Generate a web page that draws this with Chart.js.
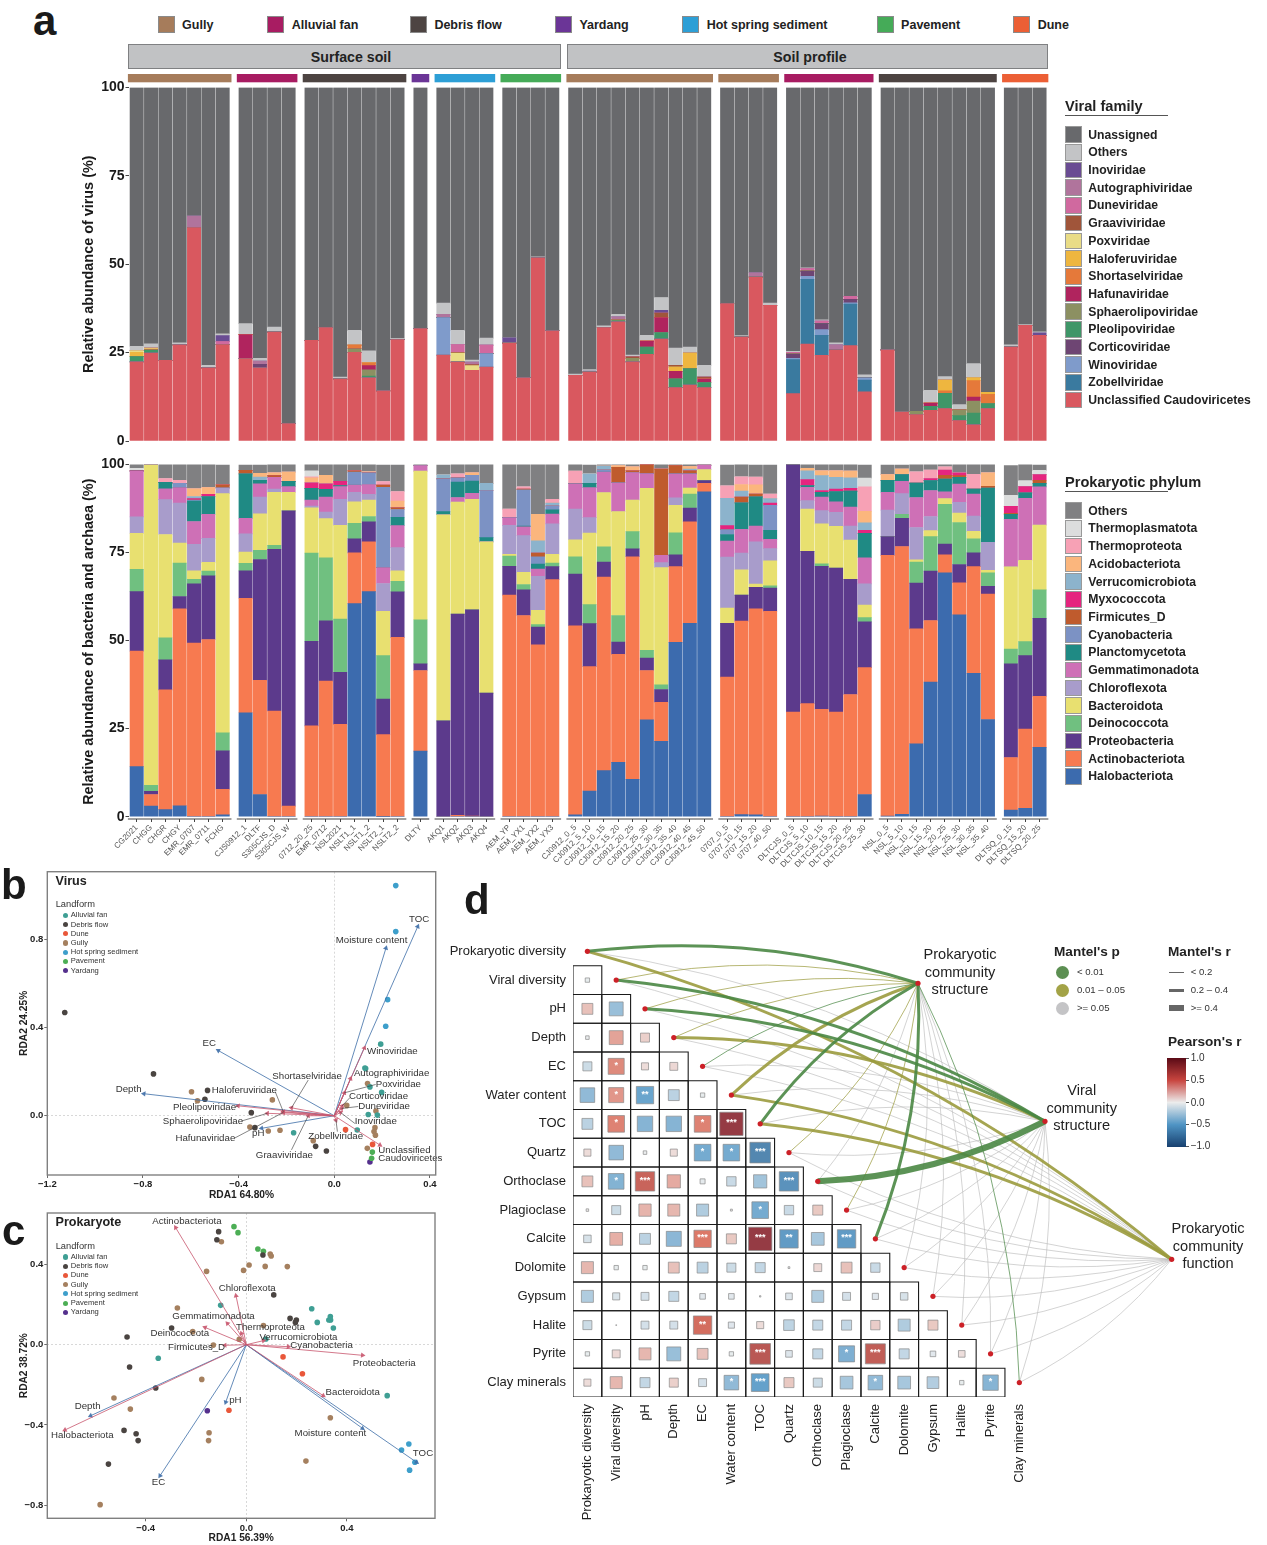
<!DOCTYPE html>
<html>
<head>
<meta charset="utf-8">
<title>Viral and prokaryotic communities</title>
<script src="https://cdn.jsdelivr.net/npm/chart.js@4/dist/chart.umd.min.js"></script>
<style>
  html, body { margin: 0; padding: 0; background: #fff; }
  body { position: relative; width: 1267px; height: 1545px; overflow: hidden; font-family: "Liberation Sans", Arial, sans-serif; color: #222; }
  canvas { position: absolute; }
  .t { position: absolute; white-space: nowrap; transform: translateY(-50%); line-height: 1; }
  .c { transform: translate(-50%, -50%); text-align: center; }
  .box { position: absolute; box-sizing: border-box; }
</style>
</head>
<body>
<canvas id="virus" style="left:78px;top:70px" width="1000" height="381"></canvas>
<canvas id="prok" style="left:78px;top:455px" width="1000" height="425"></canvas>
<canvas id="rdaB" style="left:0;top:865px" width="445" height="340"></canvas>
<canvas id="rdaC" style="left:0;top:1205px" width="445" height="340"></canvas>
<canvas id="mantel" style="left:440px;top:916px" width="827" height="629"></canvas>
<script>
// ---------- panel a: samples ----------
const sampleNames = ["CG2021","CHGG","CHGR","CHGY","EMR_0707","EMR_0711","FCHG",
  "CJS0912_1","DLTF","S305CJS_D","S305CJS_W",
  "0712_20_25","EMR_0712","NSL2021","NSLT1_1","NSLT1_2","NSLT2_1","NSLT2_2",
  "DLTY",
  "AKQ1","AKQ2","AKQ3","AKQ4",
  "AEM_YP","AEM_YX1","AEM_YX2","AEM_YX3",
  "CJ0912_0_5","CJ0912_5_10","CJ0912_10_15","CJ0912_15_20","CJ0912_20_25","CJ0912_25_30","CJ0912_30_35","CJ0912_35_40","CJ0912_40_45","CJ0912_45_50",
  "0707_0_5","0707_10_15","0707_15_20","0707_40_50",
  "DLTCJS_0_5","DLTCJS_5_10","DLTCJS_10_15","DLTCJS_15_20","DLTCJS_20_25","DLTCJS_25_30",
  "NSL_0_5","NSL_5_10","NSL_10_15","NSL_15_20","NSL_20_25","NSL_25_30","NSL_30_35","NSL_35_40",
  "DLTSQ_0_15","DLTSQ_15_20","DLTSQ_20_25"];
const groupSizes = [7,4,7,1,4,4,10,4,6,8,3];
const landformColors = { Gully:"#a67c5b", "Alluvial fan":"#a81c62", "Debris flow":"#4d4442", Yardang:"#6b3597", "Hot spring sediment":"#2d9fd6", Pavement:"#45ab58", Dune:"#ec5f35" };
const groupLandforms = ["Gully","Alluvial fan","Debris flow","Yardang","Hot spring sediment","Pavement","Gully","Gully","Alluvial fan","Debris flow","Dune"];

// viral families, bottom of stack first
const virUnclassified = [22.4,24.9,22.8,27.2,60.4,20.7,27.3, 23.3,20.7,30.8,4.9, 28.5,32.1,17.5,25.1,17.9,14.2,28.7, 31.8, 24.3,22.3,20,20.9, 27.7,17.9,51.8,31.2, 18.6,19.5,32.1,33.7,22.4,24.5,28.8,15.1,15.8,15.1, 38.9,29.4,46.4,38.4, 13.4,27.4,24.2,25.8,27,13.9, 25.8,8.2,7.5,8.7,9.2,5.8,4.6,9.2, 26.6,32.7,29.9];
const virZobell = [0,0,0,0,0,0,0, 0,0,0,0, 0,0,0,0,0,0,0, 0, 0,0,0,0, 0,0,0,0, 0,0,0,0,0,0,0,0,0,0, 0,0,0,0, 9.6,18.3,5.7,0,11.7,3.3, 0,0,0,0,0,0,0,0, 0,0,0];
const virWino = [0,0,0,0,0,0,0, 0,0,0,0, 0,0,0,0,0,0,0, 0, 10.6,0,0,3.8, 0,0,0,0, 0,0,0,0,0,0,0,0,0,0, 0,0,0,0, .4,.9,1.6,0,.4,.7, 0,0,0,0,0,0,0,0, 0,0,0];
const virCortico = [0,0,0,0,0,0,0, 0,1,0,0, 0,0,0,0,0,0,0, 0, 0,0,0,0, 0,0,0,0, 0,0,0,0,0,0,0,0,0,0, 0,0,0,0, 1.2,1.5,1.7,0,1,0, 0,0,0,0,0,0,0,0, 0,0,0];
const virPleo = [1.5,.8,0,0,0,0,0, 0,0,0,0, 0,0,0,0,.5,0,0, 0, 0,0,0,0, 0,0,0,0, 0,0,0,.3,0,2.1,1.9,2.5,4.7,1.4, 0,0,0,0, 0,0,0,0,0,0, 0,0,0,1.1,4.3,1.4,3.3,1.4, 0,0,0];
const virSphaero = [0,0,0,0,0,0,0, 0,0,0,0, 0,0,0,1,1.7,0,0, 0, 0,0,0,0, 0,0,0,0, 0,0,0,.3,1,0,0,0,0,0, 0,0,0,0, 0,0,0,0,0,0, 0,0,.9,0,0,1.6,3.4,0, 0,0,0];
const virHafuna = [0,0,0,0,0,0,0, 6.8,0,0,0, 0,0,0,0,1.2,0,0, 0, 0,0,0,0, 0,0,0,0, 0,0,0,0,0,1.7,4.2,2.1,0,1.1, 0,0,0,0, 0,0,0,0,0,0, 0,0,0,.9,0,0,1.1,0, 0,0,0];
const virShorta = [0,.3,0,0,0,0,0, 0,0,0,0, 0,0,0,1,.8,0,0, 0, 0,0,0,0, 0,0,0,0, 0,0,0,0,0,0,0,0,0,0, 0,0,0,0, 0,0,0,0,0,0, 0,0,0,0,.7,0,4.7,2.6, 0,0,0];
const virHalofer = [1.2,0,0,0,0,0,0, 0,0,0,0, 0,0,0,0,0,0,0, 0, 0,0,0,0, 0,0,0,0, 0,0,0,0,0,0,0,1.2,4.4,0, 0,0,0,0, 0,0,0,0,0,0, 0,0,0,0,3,0,.8,.6, 0,0,0];
const virPox = [.5,.3,0,0,0,0,0, 0,0,0,0, 0,0,0,0,0,0,0, 0, 0,2.6,1.3,0, 0,0,0,0, 0,0,0,0,0,0,0,0,0,0, 0,0,0,0, 0,0,0,0,0,0, 0,0,0,0,0,0,0,0, 0,0,0];
const virGraa = [0,0,0,0,0,0,0, 0,0,0,0, 0,0,0,0,0,0,0, 0, 0,.2,.3,0, 0,0,0,0, 0,0,0,0,.4,0,1.3,.5,0,.5, 0,0,0,0, 0,0,0,0,0,0, 0,0,0,0,0,0,0,0, 0,0,0];
const virDune = [0,0,0,0,0,0,.8, 0,0,0,0, 0,0,0,0,0,0,0, 0, 0,2.2,0,2.4, 0,0,0,0, 0,0,0,0,0,0,0,0,0,0, 0,0,0,0, .5,.7,.7,0,.8,0, 0,0,0,0,0,0,0,0, 0,0,0];
const virAuto = [0,0,0,0,3.2,0,0, 0,.9,0,0, 0,0,0,0,0,0,0, 0, .9,0,.7,0, 0,0,0,0, 0,0,0,.8,0,0,0,0,0,0, 0,0,1.2,0, 0,0,0,1.4,0,0, 0,0,0,0,0,0,0,0, 0,0,0];
const virIno = [0,0,0,0,0,0,1.7, 0,0,0,0, 0,0,0,0,0,0,0, 0, 0,0,0,0, 1.5,0,0,0, 0,.3,0,0,0,0,.8,0,0,0, 0,0,0,0, 0,0,0,0,0,0, 0,0,0,0,0,0,0,0, 0,0,.7];
const virOthers = [1.2,1.2,0,.6,0,.7,.5, 3.1,.8,1.4,0, 0,0,.6,4.2,3.4,0,.3, 0, 3.2,4,.6,2, 0,0,.3,0, .3,.4,.5,.7,.5,1.6,3.6,4.9,1.7,3.3, 0,.4,0,.6, .3,.2,.4,.6,0,.8, 0,0,0,3.6,1,1.5,4,0, .6,.2,.3];
const virUnassigned = [73.2,72.5,77.2,72.2,36.4,78.6,69.7, 66.8,76.6,67.8,95.1, 71.5,67.9,81.9,68.7,74.5,85.8,71, 68.2, 61,68.7,77.1,70.9, 70.8,82.1,47.9,68.8, 81.1,79.8,67.4,64.2,75.7,70.1,59.4,73.7,73.4,78.6, 61.1,70.2,52.4,61, 74.6,51,65.7,72.2,59.1,81.3, 74.2,91.8,91.6,85.7,81.8,89.7,78.1,86.2, 72.8,67.1,69.1];

// prokaryotic phyla, bottom of stack first
const proHalo = [14.2,3,2,3.1,0,0,.5, 29.5,6.3,0,0, 0,0,0,60.5,63.9,.1,0, 18.6, 0,0,0,0, 0,0,0,0, .5,7.3,13.1,15.4,10.6,27.5,21.4,49.5,54.9,92.2, 0,.6,.5,0, 0,0,.2,0,0,6.3, .2,.7,20.7,38.2,69.2,57.3,40.7,27.6, 1.9,2.4,19.7];
const proActino = [32.8,3.3,34,55.9,49.3,50.3,7.3, 32.5,32.4,30,3, 25.8,38.5,26.2,14.4,14.1,23.2,50.9, 22.9, 0,.4,.2,0, 62.9,57.1,48.8,67.3, 53.7,35.3,54.9,30.7,63.2,14,11.1,21.5,28.8,2.4, 39.6,54.9,58.5,58.3, 29.7,32.1,30.3,29.7,34.7,36, 74,76,32.6,17.5,5.1,9.1,30.3,35.6, 14.9,22.5,14.5];
const proProteo = [16.9,.9,8.5,3.5,16.8,18.1,10.9, 7.8,34.3,45.9,83.8, 24,17.1,14.8,4,5.7,10.1,12.9, 1.9, 27.2,57.1,58.5,35.1, 8.2,7.3,5,3.7, 14.7,12.2,4.3,3.5,2.2,3.5,3.6,3.3,3.9,.8, 15.3,7.4,6.1,6.6, 70.3,43.2,40.6,40.9,32.7,13, 5.3,8,13,14,3.1,5.2,3.9,2.2, 26.6,20.8,22.1];
const proDeino = [6.3,1.7,6.3,9.5,1.3,1.3,5.1, 2.1,2.6,1.1,0, 25,17.9,15.1,4.4,1.5,12.3,3, 12.5, 0,0,0,0, 2.9,1.5,.7,1, 4.9,5.4,4.3,7.5,4.9,2.2,1.3,6.3,4,0, 0,0,0,.6, 0,0,.7,0,0,1.2, 0,1.1,6,9.8,11.3,11.9,4,3.8, 4.2,4,8.1];
const proBacte = [10.2,91,29.3,5.7,2.4,2.5,67.9, 3.2,10.4,15.1,5.3, 12.9,11.1,26.6,6.1,4.7,12.6,3, 42.2, 58.5,31.8,31.4,42.9, .5,3.5,4.1,2.5, 4.8,20.3,15.4,29.5,9,46,33.3,7.8,1.7,3.1, 4.3,7.2,.9,7.1, 0,12,11.3,11.8,11.1,3.6, 0,0,.6,1.7,1.6,2.7,2.1,.7, 23.3,23.1,18.4];
const proChloro = [4.7,0,9.9,11.3,7.5,6.8,1.6, 5.2,4.7,.9,0, .5,1.9,7.4,2.7,1.6,7.9,6.6, 0, 0,0,0,0, 8.2,10.4,9.6,8.6, 8.7,4.4,0,0,0,0,1.4,2.1,0,0, 14.5,4.7,12,3.5, 0,2.4,3.8,4,4,6, 7.5,5.9,9.2,4,0,3,4.3,8, 0,0,0];
const proGemma = [13,0,3.1,4.4,6.5,6.8,0, 4.4,3.8,3.3,1.6, 1.7,4.2,3.6,2,2.8,4.5,6.2, 1.6, 0,1.3,1.7,0, 2.2,2.5,2.1,2.8, 7.2,8.5,5.8,8.2,7.8,4.2,2.1,6.8,4,1.3, 4.5,6.8,4.5,2.6, 0,3.8,3.8,3,5.4,7.4, 5.1,3.5,8.5,7.4,1.9,5.2,6.3,0, 13.5,17.6,10.8];
const proPlancto = [0,0,1.8,0,5.8,5.1,0, 12.6,1,0,1.5, 3.3,2.2,.3,0,0,0,2.4, 0, .9,4.4,3.5,1.2, 0,.2,1.4,1.2, 0,1.2,0,0,0,0,0,0,0,0, 1.9,7.5,8.3,2.6, 0,.5,1.4,2.9,4.5,6.9, 3.4,1.9,4.1,2.8,3.6,1.9,1.4,15.4, 1.4,1.5,1];
const proCyano = [0,0,0,1.2,.3,0,0, 0,0,0,0, 0,0,0,3.7,3.3,22.8,2.2, 0, 9.3,1.2,1.6,13.4, 0,10.3,2.1,1.1, 0,0,.6,0,0,0,0,0,0,0, 1.4,0,0,7.1, 0,0,0,0,0,0, 0,0,0,0,0,0,0,0, 0,0,0];
const proFirm = [0,0,0,0,0,0,.9, 1,0,.5,0, 0,0,0,.4,0,.6,.5, 0, 0,0,0,0, 0,.2,1,0, 0,0,0,4.4,.5,2.6,24.5,2.4,.9,0, 0,1.6,.8,0, 0,0,0,0,0,0, 0,0,0,0,1.1,.5,0,.5, .3,0,.9];
const proMyxo = [.2,0,0,0,.4,.6,0, 0,0,0,0, 1.6,1.6,1.2,0,0,0,0, 0, 0,0,0,0, 0,0,0,0, 0,0,0,0,0,0,0,0,0,0, 1.1,0,0,.6, 0,1.7,.5,.7,.8,.9, 0,0,0,.6,1.5,.8,0,0, 2,1.8,1.6];
const proVerru = [0,0,0,0,.6,0,0, 0,.9,0,0, 0,0,0,0,0,0,0, 0, 1.2,0,0,2, 0,0,3.5,.8, 0,2.8,1.1,0,0,0,0,0,.5,0, 7.8,1.7,0,1.3, 0,2.5,4.2,3.3,3,2.1, 0,0,0,0,0,0,0,0, 0,0,0];
const proAcido = [0,0,0,0,2.2,1.9,0, 0,1.1,.8,2.6, 1.4,2.4,0,0,.3,0,1.9, 0, 0,0,.7,0, 0,0,7.5,0, 0,0,0,.5,1.1,0,0,0,.7,0, 0,1.9,2.6,0, 0,.7,1.4,1.9,1.9,3.3, 1.6,1.6,0,0,0,0,0,3.8, 0,0,0];
const proThermoprot = [0,0,1.1,.9,0,0,0, 0,0,0,0, .3,0,0,0,0,1,2.7, 0, 0,1.1,0,0, 2.4,.6,0,1.1, 3.6,0,0,0,0,0,0,0,0,0, 3.5,2.2,2.2,1.3, 0,0,0,0,0,6.9, 0,0,3.2,2.4,.9,0,4.2,0, 0,0,0];
const proThermopl = [.6,0,0,0,0,0,0, 0,0,0,0, 1.7,0,0,0,0,0,0, 0, 0,0,0,0, 0,0,0,0, 0,0,0,0,0,0,0,0,0,0, 0,0,0,0, 0,0,0,0,0,2.5, 0,0,0,0,0,0,0,0, 3.1,1.7,1.2];
const proOthers = [1.1,.1,4,4.5,6.9,6.6,5.7, 1.6,2.4,2.4,2.2, 1.8,3.1,4.8,1.8,2.1,4.8,7.6, .3, 2.8,2.7,2.4,5.4, 12.7,6.4,14.2,9.9, 1.9,2.5,.5,.3,.8,0,1.3,.3,.7,.2, 6,3.5,3.5,8.3, 0,1.2,1.9,1.9,1.9,3.8, 2.8,1.2,2.2,1.7,.7,2.5,2.8,2.5, 8.5,4.7,1.6];

const virNames = ["Unclassified Caudoviricetes","Zobellviridae","Winoviridae","Corticoviridae","Pleolipoviridae","Sphaerolipoviridae","Hafunaviridae","Shortaselviridae","Haloferuviridae","Poxviridae","Graaviviridae","Duneviridae","Autographiviridae","Inoviridae","Others","Unassigned"];
const virSeries = [virUnclassified,virZobell,virWino,virCortico,virPleo,virSphaero,virHafuna,virShorta,virHalofer,virPox,virGraa,virDune,virAuto,virIno,virOthers,virUnassigned];
const virColors = ["#d9585f","#3a7a9f","#7f9bcb","#6e4573","#3f9668","#8c9062","#b0245e","#e5793a","#eeb63f","#e9dc86","#a0553a","#d0699f","#b0749c","#6a4c93","#c3c4c6","#68696c"];
const proNames = ["Halobacteriota","Actinobacteriota","Proteobacteria","Deinococcota","Bacteroidota","Chloroflexota","Gemmatimonadota","Planctomycetota","Cyanobacteria","Firmicutes_D","Myxococcota","Verrucomicrobiota","Acidobacteriota","Thermoproteota","Thermoplasmatota","Others"];
const proSeries = [proHalo,proActino,proProteo,proDeino,proBacte,proChloro,proGemma,proPlancto,proCyano,proFirm,proMyxo,proVerru,proAcido,proThermoprot,proThermopl,proOthers];
const proColors = ["#3c6bae","#f77a50","#5c3a8c","#70c080","#e8e070","#a89ccb","#ce70b6","#1f8a84","#7c92c4","#bf5b2d","#e5257f","#8cb3cc","#fbb67d","#f7a1b5","#dcdddd","#808082"];

// ---------- panels b and c: RDA scores ----------
const landformNames = ["Alluvial fan","Debris flow","Dune","Gully","Hot spring sediment","Pavement","Yardang"];
const landformDots = ["#3f9f94","#4a4441","#e9573a","#a5805f","#3e9fcb","#4cae55","#55308d"];
const bXTicks = [-1.2,-.8,-.4,0,.4];
const bYTicks = [0,.4,.8];
const cXTicks = [-.4,0,.4];
const cYTicks = [-.8,-.4,0,.4];
const bScores = [
  [[.128,.217],[.131,.214],[.194,.325],[.149,.131],[.198,.106],[.142,.006],[.18,.003],[.096,-.065],[-.17,-.077]],
  [[-1.127,.469],[-.756,.19],[-.53,.115],[-.541,.075],[-.347,.014],[-.332,-.054],[-.078,-.139],[-.033,-.16]],
  [[.047,-.063],[.16,-.13]],
  [[-.597,.109],[-.572,.068],[-.259,.072],[-.353,-.051],[-.276,-.069],[-.227,-.066],[-.088,-.113],[.139,.146],[.052,.047],[.174,.021],[.17,-.054],[.166,-.072],[.172,-.088],[.138,-.148]],
  [[.257,1.045],[.257,.836],[.223,.527],[.215,.406]],
  [[.159,-.165],[.156,-.193]],
  [[.149,-.21]]
];
const bEnvArrows = [[.349,.859],[.216,.761],[-.485,.296],[-.796,.1],[-.304,-.057]];
const bTaxonArrows = [[.126,.308],[.068,.169],[.042,.104],[.033,.045],[.031,.033],[.026,.015],[.191,-.133],[.007,-.02],[-.109,0],[-.179,.036],[-.213,.018],[-.402,.045],[-.28,.011],[-.213,.015]];
const bLabels = [["TOC",.312,.894],["Moisture content",.006,.795],["EC",-.551,.331],["Depth",-.914,.118],["Winoviridae",.137,.293],["Autographiviridae",.082,.193],["Poxviridae",.173,.143],["Shortaselviridae",-.259,.181],["Haloferuviridae",-.512,.116],["Corticoviridae",.061,.088],["Duneviridae",.1,.041],["Pleolipoviridae",-.674,.038],["Sphaerolipoviridae",-.717,-.024],["Inoviridae",.086,-.024],["Hafunaviridae",-.664,-.101],["pH",-.344,-.082],["Zobellviridae",-.109,-.095],["Graaviviridae",-.328,-.18],["Unclassified",.184,-.158],["Caudoviricetes",.184,-.193]];
const bLeaders = [[-.109,.162,-.179,.036],[-.247,.109,-.213,.018],[-.416,.038,-.402,.045],[-.388,-.024,-.28,.011],[-.416,-.101,-.213,.015],[-.179,-.155,-.109,0],[.013,-.072,.007,-.02],[.173,.142,.042,.104],[.066,.083,.033,.045],[.1,.042,.031,.033],[.086,-.035,.026,.015]];

const cScores = [
  [[-.102,.196],[.26,.179],[.334,.14],[.282,.111],[.328,.123],[.335,.123],[.346,.083],[.078,.028],[-.35,-.068],[.56,-.254]],
  [[-.11,.563],[-.117,.523],[.066,.447],[.109,.248],[.174,.131],[.199,.123],[.195,.111],[-.297,.083],[-.474,.038],[-.464,-.111],[-.36,-.216],[-.486,-.427],[-.438,-.444],[-.43,-.478],[-.548,-.595]],
  [[.146,-.061],[.223,-.145],[-.069,-.327]],
  [[-.099,.513],[-.158,.365],[-.011,.37],[.011,.397],[.075,.39],[.095,.452],[.099,.442],[.163,.389],[-.274,.183],[-.213,.065],[.068,.095],[-.131,-.002],[-.028,.027],[-.177,-.173],[-.526,-.266],[-.461,-.321],[-.148,-.439],[-.15,-.478],[.334,-.364],[.237,-.58],[-.581,-.797]],
  [[.617,-.525],[.646,-.495],[.67,-.586],[.649,-.625]],
  [[-.049,.588],[-.033,.558],[.046,.477],[.068,.465]],
  [[-.155,-.329]]
];
const cEnvArrows = [[.677,-.586],[.462,-.417],[-.082,-.287],[-.343,-.653],[-.619,-.354]];
const cTaxonArrows = [[-.281,.583],[-.041,.244],[-.075,.106],[-.019,.056],[-.164,.086],[-.085,-.003],[.068,.02],[.167,-.01],[.462,-.053],[.306,-.254],[-.721,-.425]];
const cLabels = [["Actinobacteriota",-.374,.613],["Chloroflexota",-.11,.281],["Gemmatimonadota",-.294,.14],["Thermoproteota",-.041,.085],["Deinococcota",-.381,.056],["Verrucomicrobiota",.052,.037],["Firmicutes_D",-.311,-.015],["Cyanobacteria",.175,-.002],["Proteobacteria",.423,-.095],["Bacteroidota",.315,-.239],["pH",-.068,-.276],["Depth",-.682,-.307],["Moisture content",.192,-.442],["TOC",.662,-.542],["Halobacteriota",-.776,-.453],["EC",-.376,-.684]];

// ---------- panel d: Pearson's r and Mantel links ----------
const envNames = ["Prokaryotic diversity","Viral diversity","pH","Depth","EC","Water content","TOC","Quartz","Orthoclase","Plagioclase","Calcite","Dolomite","Gypsum","Halite","Pyrite","Clay minerals"];
const pearsonR = [
  [-.03],
  [.19,-.31],
  [-.02,.31,.13],
  [-.13,.41,.08,.1],
  [-.34,.36,-.48,-.19,-.03],
  [-.19,.44,-.38,-.38,.44,.87],
  [.08,-.34,-.02,.08,-.44,-.44,-.68],
  [.19,-.39,.6,.28,-.04,-.14,-.28,-.6],
  [.01,-.13,.24,.23,-.23,.006,-.44,-.14,.16],
  [-.09,.26,-.19,-.36,.48,.16,.87,-.54,-.26,-.54],
  [.23,-.03,-.03,.19,-.19,-.13,-.16,-.005,.1,.19,-.14],
  [-.23,-.08,-.1,-.16,-.05,-.05,-.003,-.07,-.23,-.1,-.06,-.09],
  [-.13,.001,-.1,-.1,.54,-.06,.08,-.18,-.16,-.16,.14,-.23,.16],
  [-.03,.1,.23,-.31,.19,-.03,.68,-.07,-.16,-.41,.64,-.16,-.05,.07],
  [.08,.23,-.16,.13,-.1,-.34,-.5,.16,-.13,-.26,-.34,-.26,-.22,-.03,-.38]
];
const pearsonStars = [[4,1,"*"],[5,1,"*"],[5,2,"**"],[6,1,"*"],[6,4,"*"],[6,5,"***"],[7,4,"*"],[7,5,"*"],[7,6,"***"],[8,1,"*"],[8,2,"***"],[8,7,"***"],[9,6,"*"],[10,4,"***"],[10,6,"***"],[10,7,"**"],[10,9,"***"],[13,4,"**"],[14,6,"***"],[14,9,"*"],[14,10,"***"],[15,5,"*"],[15,6,"***"],[15,10,"*"],[15,14,"*"]];
// link target nodes as [column, row] on the same scales as the matrix
const mantelTargets = [[11.48,1.11],[15.89,5.91],[20.29,10.71]];
// p class: 0 is < 0.01, 1 is 0.01-0.05, 2 is >= 0.05; r class: 0 is < 0.2, 1 is 0.2-0.4, 2 is >= 0.4
const mantelPStructure = [0,1,1,1,0,1,0,1,2,1,0,2,2,2,2,0];
const mantelRStructure = [1,0,0,0,0,1,1,0,0,0,1,0,0,0,0,0];
const mantelPViral = [2,0,0,1,2,2,2,2,0,2,2,2,2,2,2,2];
const mantelRViral = [0,1,1,1,0,0,0,0,2,0,0,0,0,0,0,0];
const mantelPFunction = [1,2,2,2,2,1,1,2,2,2,2,2,2,2,2,2];
const mantelRFunction = [1,0,0,0,0,1,1,0,0,0,0,0,0,0,0,0];

// ---------- shared setup ----------
Chart.defaults.font.family = '"Liberation Sans", Arial, sans-serif';
Chart.defaults.animation = false;
Chart.defaults.responsive = false;
Chart.defaults.plugins.legend.display = false;
Chart.defaults.plugins.tooltip.enabled = false;

function label(text, x, y, size, extra) {
  const el = document.createElement("div");
  el.className = "t";
  el.textContent = text;
  el.style.left = x + "px";
  el.style.top = y + "px";
  el.style.fontSize = size + "px";
  if (extra) el.style.cssText += extra;
  document.body.appendChild(el);
  return el;
}
function box(x, y, w, h, css) {
  const el = document.createElement("div");
  el.className = "box";
  el.style.cssText = `left:${x}px;top:${y}px;width:${w}px;height:${h}px;` + css;
  document.body.appendChild(el);
}

// ---------- panel a ----------
const xPositions = [];
const groupRanges = [];
{
  let i = 0;
  groupSizes.forEach((n, g) => {
    groupRanges.push([i + g * 0.6, i + n - 1 + g * 0.6]);
    for (let k = 0; k < n; k++, i++) xPositions.push(i + g * 0.6);
  });
}

function stackSets(series, colors, names) {
  return series.map((values, s) => ({
    label: names[s],
    data: values.map((v, i) => ({ x: xPositions[i], y: v })),
    backgroundColor: colors[s],
    borderWidth: 0,
    barThickness: 13.3
  }));
}
function relativeAxis(title, yMin) {
  return {
    stacked: true, min: yMin, max: 100,
    afterFit(s) { s.width = 50.5; },
    afterBuildTicks(s) { s.ticks = [0, 25, 50, 75, 100].map(value => ({ value })); },
    border: { display: false },
    grid: { drawOnChartArea: false, tickLength: 3, tickColor: "#444" },
    ticks: { color: "#1a1a1a", font: { size: 14, weight: "bold" }, padding: 1 },
    title: { display: true, text: title, color: "#1a1a1a", font: { size: 14.4, weight: "bold" }, padding: { top: 2, bottom: 0 } }
  };
}
const xRange = { min: -0.572, max: 63.59, offset: false };

const groupStrips = {
  id: "groupStrips",
  beforeDraw(chart) {
    const { ctx, scales: { x } } = chart;
    groupRanges.forEach((r, g) => {
      const left = x.getPixelForValue(r[0]) - 8.8;
      const right = x.getPixelForValue(r[1]) + 8.8;
      ctx.fillStyle = landformColors[groupLandforms[g]];
      ctx.fillRect(left, 4, right - left, 8.3);
    });
  }
};
const groupAxisLines = {
  id: "groupAxisLines",
  afterDraw(chart) {
    const { ctx, chartArea, scales: { x } } = chart;
    ctx.save();
    ctx.strokeStyle = "#444";
    ctx.lineWidth = 1.2;
    groupRanges.forEach(r => {
      ctx.beginPath();
      ctx.moveTo(x.getPixelForValue(r[0]) - 8.8, chartArea.bottom);
      ctx.lineTo(x.getPixelForValue(r[1]) + 8.8, chartArea.bottom);
      ctx.stroke();
    });
    ctx.restore();
  }
};

new Chart(document.getElementById("virus"), {
  type: "bar",
  data: { datasets: stackSets(virSeries, virColors, virNames) },
  options: {
    layout: { autoPadding: false, padding: { top: 17.5, right: 30, bottom: 10, left: 0 } },
    scales: {
      x: { type: "linear", stacked: true, display: false, ...xRange },
      y: relativeAxis("Relative abundance of virus (%)", 0)
    }
  },
  plugins: [groupStrips]
});

new Chart(document.getElementById("prok"), {
  type: "bar",
  data: { datasets: stackSets(proSeries, proColors, proNames) },
  options: {
    layout: { autoPadding: false, padding: { top: 8, right: 30, bottom: 0, left: 0 } },
    scales: {
      x: {
        type: "linear", stacked: true, ...xRange,
        afterFit(s) { s.height = 61; },
        afterBuildTicks(s) { s.ticks = xPositions.map(value => ({ value })); },
        border: { display: false },
        grid: { offset: false, drawOnChartArea: false, tickLength: 3, tickColor: "#444" },
        ticks: {
          autoSkip: false, minRotation: 45, maxRotation: 45, padding: 1,
          color: "#555", font: { size: 8 },
          callback: (v, i) => sampleNames[i]
        }
      },
      y: relativeAxis("Relative abundance of bacteria and archaea (%)", -0.65)
    }
  },
  plugins: [groupAxisLines]
});

// panel letters and top legend
label("a", 33, 21, 42, "font-weight:bold;color:#1a1a1a");
label("b", 1, 885, 42, "font-weight:bold;color:#1a1a1a");
label("c", 2, 1231, 42, "font-weight:bold;color:#1a1a1a");
label("d", 464, 900, 42, "font-weight:bold;color:#1a1a1a");

const topLegendNames = ["Gully","Alluvial fan","Debris flow","Yardang","Hot spring sediment","Pavement","Dune"];
const topLegendX = [157.7,267.3,410,555,682.3,876.7,1013.3];
topLegendNames.forEach((n, i) => {
  box(topLegendX[i], 16, 17, 17, `background:${landformColors[n]};border:0.6px solid #8a8a8a`);
  label(n, topLegendX[i] + 24.4, 25, 12.5, "font-weight:bold");
});

box(127.7, 43.7, 433.3, 25.6, "background:#c1c2c4;border:1px solid #7f8082");
box(567.3, 43.7, 480.4, 25.6, "background:#c1c2c4;border:1px solid #7f8082");
label("Surface soil", 351, 57, 14.2, "font-weight:bold").classList.add("c");
label("Soil profile", 810, 57, 14.2, "font-weight:bold").classList.add("c");

function sideLegend(title, names, colors, titleY, lineY, firstY, step) {
  label(title, 1065, titleY, 14.6, "font-weight:bold");
  box(1065, lineY, 103, 1, "background:#555");
  names.slice().reverse().forEach((n, i) => {
    const y = firstY + i * step;
    box(1065, y - 8.3, 17, 16.6, `background:${colors[colors.length - 1 - i]};border:0.6px solid #999`);
    label(n, 1088.3, y, 12.2, "font-weight:bold");
  });
}
sideLegend("Viral family", virNames, virColors, 106, 115, 134.7, 17.69);
sideLegend("Prokaryotic phylum", proNames, proColors, 481.7, 490.5, 510.7, 17.71);

// ---------- panels b and c ----------
function arrowSet(tip, color) {
  return {
    type: "scatter",
    data: [{ x: 0, y: 0 }, { x: tip[0], y: tip[1] }],
    showLine: true,
    borderColor: color,
    borderWidth: 0.9,
    pointStyle: "triangle",
    pointRadius: [0, 3],
    pointBorderWidth: 0,
    pointBackgroundColor: color,
    pointRotation(ctx) {
      const { x, y } = ctx.chart.scales;
      const dx = x.getPixelForValue(tip[0]) - x.getPixelForValue(0);
      const dy = y.getPixelForValue(tip[1]) - y.getPixelForValue(0);
      return Math.atan2(dx, -dy) * 180 / Math.PI;
    }
  };
}
function biplotText(labels, leaders) {
  return {
    id: "biplotText",
    afterDatasetsDraw(chart) {
      const { ctx, chartArea: a, scales: { x, y } } = chart;
      ctx.save();
      ctx.strokeStyle = "#333";
      ctx.lineWidth = 0.6;
      leaders.forEach(l => {
        ctx.beginPath();
        ctx.moveTo(x.getPixelForValue(l[0]), y.getPixelForValue(l[1]));
        ctx.lineTo(x.getPixelForValue(l[2]), y.getPixelForValue(l[3]));
        ctx.stroke();
      });
      ctx.fillStyle = "#333";
      ctx.font = '9.7px "Liberation Sans"';
      ctx.textBaseline = "middle";
      labels.forEach(l => ctx.fillText(l[0], x.getPixelForValue(l[1]), y.getPixelForValue(l[2])));
      ctx.strokeStyle = "#808080";
      ctx.lineWidth = 1.4;
      ctx.strokeRect(a.left, a.top, a.right - a.left, a.bottom - a.top);
      ctx.restore();
    }
  };
}
const minusTick = v => v.toFixed(1).replace("-", "\u2212");
function rdaChart(id, scores, envTips, taxonTips, labels, leaders, opt) {
  const dots = scores.map((pts, i) => ({
    label: landformNames[i],
    data: pts.map(p => ({ x: p[0], y: p[1] })),
    backgroundColor: landformDots[i],
    pointRadius: 2.8,
    pointBorderWidth: 0
  }));
  const axis = (range, tickValues, title, extra) => ({
    min: range[0], max: range[1],
    afterBuildTicks(s) { s.ticks = tickValues.map(value => ({ value })); },
    border: { display: false, dash: [2, 2] },
    grid: { color: c => c.tick.value === 0 ? "#cfcfcf" : "transparent", tickLength: 3, tickColor: "#444", lineWidth: 0.8 },
    ticks: { color: "#222", padding: 1, font: { size: 9.5, weight: "bold" }, callback: minusTick },
    title: { display: true, text: title, color: "#222", font: { size: 10.2, weight: "bold" }, ...extra }
  });
  return new Chart(document.getElementById(id), {
    type: "scatter",
    data: { datasets: [
      ...taxonTips.map(t => arrowSet(t, "rgba(201,88,111,0.9)")),
      ...envTips.map(t => arrowSet(t, "rgba(63,111,168,0.9)")),
      ...dots
    ] },
    options: {
      layout: { autoPadding: false, padding: opt.padding },
      scales: {
        x: { ...axis(opt.xRange, opt.xTicks, opt.xTitle, { padding: { top: 0, bottom: opt.xTitlePad } }), afterFit(s) { s.height = opt.axisH; } },
        y: { ...axis(opt.yRange, opt.yTicks, opt.yTitle, { padding: { top: 18, bottom: 0 } }), afterFit(s) { s.width = 47.3; } }
      }
    },
    plugins: [biplotText(labels, leaders)]
  });
}
rdaChart("rdaB", bScores, bEnvArrows, bTaxonArrows, bLabels, bLeaders, {
  padding: { top: 6, right: 9.3, bottom: 0, left: 0 },
  xRange: [-1.2, 0.424], yRange: [-0.269, 1.108], xTicks: bXTicks, yTicks: bYTicks,
  xTitle: "RDA1 64.80%", yTitle: "RDA2 24.25%", axisH: 30, xTitlePad: 4
});
rdaChart("rdaC", cScores, cEnvArrows, cTaxonArrows, cLabels, [], {
  padding: { top: 8, right: 10, bottom: 0, left: 0 },
  xRange: [-0.791, 0.75], yRange: [-0.865, 0.656], xTicks: cXTicks, yTicks: cYTicks,
  xTitle: "RDA1 56.39%", yTitle: "RDA2 38.72%", axisH: 26.7, xTitlePad: 1
});

function landformLegend(title, titleY, heading, headingY, firstY, step) {
  label(title, 55.5, titleY, 12.6, "font-weight:bold");
  label(heading, 55.7, headingY, 9.3, "color:#333");
  landformNames.forEach((n, i) => {
    const y = firstY + i * step;
    box(62.7, y - 2.6, 5.2, 5.2, `background:${landformDots[i]};border-radius:50%`);
    label(n, 70.7, y, 7.6, "color:#333");
  });
}
landformLegend("Virus", 881, "Landform", 904.5, 915.3, 9.23);
landformLegend("Prokaryote", 1222, "Landform", 1246.5, 1257, 9.22);

// ---------- panel d ----------
const rampStops = [[-1,[23,64,111]],[-.5,[79,148,196]],[0,[238,238,238]],[.5,[214,96,77]],[1,[106,10,30]]];
function pearsonColor(r) {
  for (let i = 1; i < rampStops.length; i++) {
    if (r <= rampStops[i][0]) {
      const [a, ca] = rampStops[i - 1], [b, cb] = rampStops[i];
      const t = (r - a) / (b - a);
      const c = ca.map((v, k) => Math.round(v + (cb[k] - v) * t));
      return `rgba(${c[0]},${c[1]},${c[2]},0.88)`;
    }
  }
}
const cellPoints = [], cellRadius = [], cellFill = [], framePoints = [];
pearsonR.forEach((row, i) => row.forEach((r, c) => {
  framePoints.push({ x: c, y: i + 1 });
  cellPoints.push({ x: c, y: i + 1 });
  cellRadius.push(25 * Math.sqrt(Math.abs(r)) * Math.SQRT1_2);
  cellFill.push(pearsonColor(r));
}));
const linkStyle = { p: ["rgba(74,135,68,0.9)", "rgba(155,155,62,0.9)", "rgba(190,190,190,0.85)"], w: [0.8, 3, 6] };
const linkTables = [[mantelPStructure, mantelRStructure], [mantelPViral, mantelRViral], [mantelPFunction, mantelRFunction]];

const mantelDraw = {
  id: "mantelDraw",
  beforeDatasetsDraw(chart) {
    const { ctx, scales: { x, y } } = chart;
    ctx.save();
    // grey first so the significant links stay on top
    [2, 1, 0].forEach(cls => {
      linkTables.forEach((tbl, t) => {
        const tx = x.getPixelForValue(mantelTargets[t][0]), ty = y.getPixelForValue(mantelTargets[t][1]);
        envNames.forEach((_, i) => {
          if (tbl[0][i] !== cls) return;
          const sx = x.getPixelForValue(i), sy = y.getPixelForValue(i);
          const side = i <= 6 ? 1 : -1;   // upper rows bow to the left of travel, lower rows to the right
          const mx = (sx + tx) / 2 + side * 0.11 * (ty - sy);
          const my = (sy + ty) / 2 - side * 0.11 * (tx - sx);
          ctx.strokeStyle = linkStyle.p[cls];
          ctx.lineWidth = linkStyle.w[tbl[1][i]];
          ctx.beginPath();
          ctx.moveTo(sx, sy);
          ctx.quadraticCurveTo(mx, my, tx, ty);
          ctx.stroke();
        });
      });
    });
    ctx.restore();
  },
  afterDatasetsDraw(chart) {
    const { ctx, scales: { x, y } } = chart;
    ctx.save();
    ctx.fillStyle = "#fff";
    ctx.font = 'bold 9px "Liberation Sans"';
    ctx.textAlign = "center";
    ctx.textBaseline = "middle";
    pearsonStars.forEach(s => ctx.fillText(s[2], x.getPixelForValue(s[1]), y.getPixelForValue(s[0]) - 1));
    ctx.restore();
  }
};

new Chart(document.getElementById("mantel"), {
  type: "scatter",
  data: { datasets: [
    { label: "nodes", order: 1, backgroundColor: "#cc2027", pointRadius: 2.6, pointBorderWidth: 0,
      data: [...envNames.map((_, i) => ({ x: i, y: i })), ...mantelTargets.map(t => ({ x: t[0], y: t[1] }))] },
    { label: "Pearson", order: 2, data: cellPoints, pointStyle: "rect", pointRadius: cellRadius,
      pointBackgroundColor: cellFill, pointBorderColor: "#8a8a8a", pointBorderWidth: 0.7 },
    { label: "cells", order: 3, data: framePoints, pointStyle: "rect", pointRadius: 28.8 * Math.SQRT1_2,
      pointBackgroundColor: "rgba(255,255,255,0)", pointBorderColor: "#1a1a1a", pointBorderWidth: 1.1 }
  ] },
  options: {
    layout: { autoPadding: false, padding: 0 },
    scales: {
      x: {
        min: -0.5, max: 23.6,
        afterFit(s) { s.height = 148; },
        afterBuildTicks(s) { s.ticks = envNames.map((_, i) => ({ value: i })); },
        border: { display: false }, grid: { display: false, tickLength: 0 },
        ticks: { autoSkip: false, minRotation: 90, maxRotation: 90, padding: 7, color: "#222", font: { size: 13 }, callback: (v, i) => envNames[i] }
      },
      y: {
        reverse: true, min: -0.715, max: 15.5,
        afterFit(s) { s.width = 133; },
        afterBuildTicks(s) { s.ticks = envNames.map((_, i) => ({ value: i })); },
        border: { display: false }, grid: { display: false, tickLength: 0 },
        ticks: { autoSkip: false, padding: 7, color: "#222", font: { size: 13 }, callback: (v, i) => envNames[i] }
      }
    }
  },
  plugins: [mantelDraw]
});

function centerLines(lines, x, y, step) {
  lines.forEach((ln, i) => label(ln, x, y + i * step, 14.6, "color:#222").classList.add("c"));
}
centerLines(["Prokaryotic","community","structure"], 960, 954, 17.7);
centerLines(["Viral","community","structure"], 1081.7, 1090, 17.6);
centerLines(["Prokaryotic","community","function"], 1208, 1228, 17.6);

label("Mantel's p", 1054, 952, 13.6, "font-weight:bold");
label("Mantel's r", 1168, 952, 13.6, "font-weight:bold");
label("Pearson's r", 1168, 1042, 13.6, "font-weight:bold");
const pLegendText = ["< 0.01", "0.01 \u2013 0.05", ">= 0.05"];
const rLegendText = ["< 0.2", "0.2 \u2013 0.4", ">= 0.4"];
const legendDot = ["#5c8f52", "#a3a347", "#c4c4c6"];
const legendBar = [1, 2.6, 5.2];
[972.3, 990.3, 1008].forEach((y, i) => {
  box(1056.3, y - 6.5, 13, 13, `background:${legendDot[i]};border-radius:50%`);
  label(pLegendText[i], 1077, y, 9.6, "color:#333");
  box(1169, y - legendBar[i] / 2, 15, legendBar[i], "background:#666");
  label(rLegendText[i], 1190.7, y, 9.6, "color:#333");
});
box(1167.3, 1057.7, 18.4, 89.6, "background:linear-gradient(to bottom,#5a0a16 0%,#c8453f 25%,#ececec 50%,#4f94c4 75%,#17406f 100%)");
const barTickText = ["1.0", "0.5", "0.0", "\u22120.5", "\u22121.0"];
[1058, 1080, 1102.5, 1124, 1146].forEach((y, i) => {
  box(1185.7, y - 0.4, 3, 0.8, "background:#555");
  label(barTickText[i], 1190.7, y, 10, "color:#333");
});
</script>
</body>
</html>
